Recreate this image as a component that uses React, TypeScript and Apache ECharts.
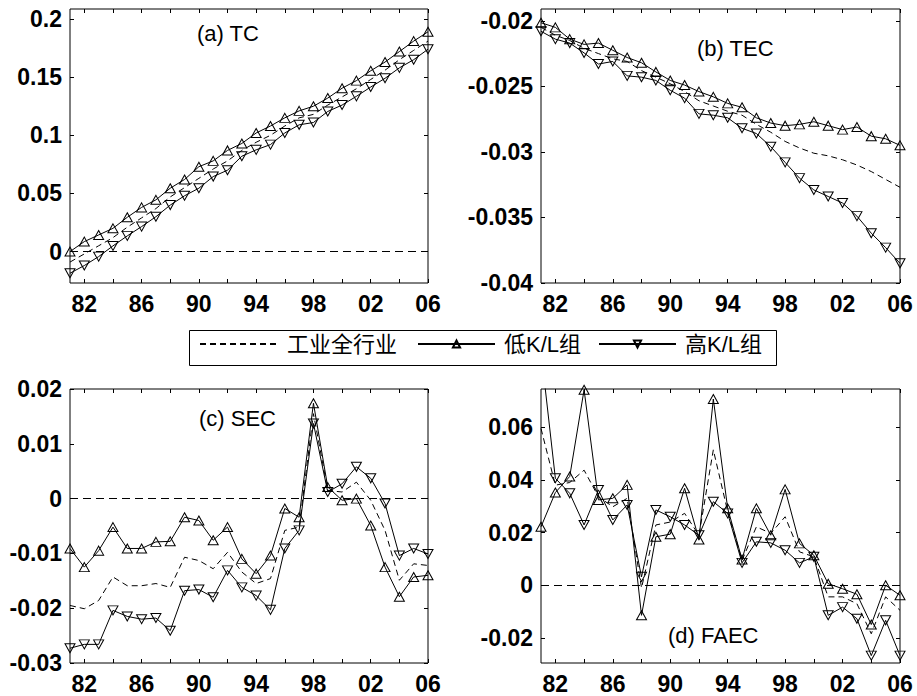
import React, { useEffect, useRef } from "react";
import * as echarts from "echarts";

const years = [1981, 1982, 1983, 1984, 1985, 1986, 1987, 1988, 1989, 1990, 1991, 1992, 1993, 1994, 1995, 1996, 1997, 1998, 1999, 2000, 2001, 2002, 2003, 2004, 2005, 2006];
const xTickValues = [1982, 1984, 1986, 1988, 1990, 1992, 1994, 1996, 1998, 2000, 2002, 2004, 2006];
const xLabelValues = [1982, 1986, 1990, 1994, 1998, 2002, 2006];

const seriesNames = ["工业全行业", "低K/L组", "高K/L组"];
const panelTitles = ["(a) TC", "(b) TEC", "(c) SEC", "(d) FAEC"];

// (a) TC
const tcAll = [-0.009, -0.002, 0.005, 0.012, 0.021, 0.029, 0.037, 0.047, 0.055, 0.063, 0.071, 0.078, 0.087, 0.094, 0.1, 0.108, 0.115, 0.118, 0.126, 0.133, 0.14, 0.148, 0.156, 0.165, 0.173, 0.181];
const tcLow = [0.0, 0.0086, 0.0143, 0.02, 0.0295, 0.038, 0.0445, 0.0545, 0.062, 0.073, 0.078, 0.087, 0.093, 0.102, 0.108, 0.115, 0.121, 0.125, 0.132, 0.1405, 0.147, 0.1555, 0.163, 0.172, 0.181, 0.189];
const tcHigh = [-0.0186, -0.012, -0.0043, 0.0049, 0.0135, 0.0215, 0.03, 0.04, 0.048, 0.0545, 0.0645, 0.07, 0.082, 0.0875, 0.092, 0.102, 0.109, 0.111, 0.1205, 0.126, 0.1335, 0.1415, 0.149, 0.158, 0.165, 0.174];
const tcTicks = [0, 0.05, 0.1, 0.15, 0.2];

// (b) TEC
const tecAll = [-0.0205, -0.0211, -0.0215, -0.0221, -0.0225, -0.0229, -0.0231, -0.0238, -0.0243, -0.0248, -0.0254, -0.0261, -0.0265, -0.0269, -0.0272, -0.0279, -0.0285, -0.0292, -0.0297, -0.0301, -0.0303, -0.0306, -0.031, -0.0315, -0.0321, -0.0327];
const tecLow = [-0.02015, -0.0205, -0.0214, -0.0218, -0.0217, -0.02225, -0.0228, -0.0232, -0.0239, -0.02455, -0.0249, -0.0254, -0.0258, -0.0263, -0.0266, -0.0274, -0.0278, -0.028, -0.0279, -0.0277, -0.028, -0.0283, -0.0281, -0.0288, -0.029, -0.0295];
const tecHigh = [-0.0208, -0.0214, -0.0217, -0.02245, -0.0233, -0.0231, -0.0242, -0.0243, -0.02455, -0.0253, -0.0259, -0.0271, -0.0272, -0.0274, -0.0282, -0.0286, -0.0296, -0.0308, -0.032, -0.0329, -0.0334, -0.0339, -0.0349, -0.0362, -0.0373, -0.0385];
const tecTicks = [-0.04, -0.035, -0.03, -0.025, -0.02];

// (c) SEC
const secAll = [-0.0195, -0.0201, -0.0186, -0.0143, -0.0159, -0.0159, -0.0155, -0.0162, -0.0107, -0.0113, -0.0128, -0.0098, -0.0134, -0.0155, -0.0146, -0.0058, -0.0052, 0.0155, 0.0015, 0.0012, 0.003, -0.0003, -0.0058, -0.0149, -0.0119, -0.0122];
const secLow = [-0.0091, -0.0125, -0.0095, -0.0052, -0.0091, -0.0091, -0.0079, -0.0078, -0.0034, -0.004, -0.0076, -0.0052, -0.011, -0.0137, -0.0104, -0.0018, -0.0034, 0.0174, 0.0021, -0.0003, 0.0, -0.0049, -0.0125, -0.0179, -0.0143, -0.014];
const secHigh = [-0.0273, -0.0266, -0.0266, -0.0204, -0.0215, -0.022, -0.0218, -0.0241, -0.0168, -0.0166, -0.018, -0.0131, -0.0162, -0.0177, -0.0203, -0.0091, -0.0058, 0.0137, 0.0012, 0.0027, 0.0058, 0.0037, -0.0009, -0.0104, -0.0091, -0.0101];
const secTicks = [-0.03, -0.02, -0.01, 0, 0.01, 0.02];

// (d) FAEC
const faecAll = [0.0595, 0.038, 0.039, 0.0437, 0.0336, 0.0298, 0.033, -0.001, 0.0229, 0.024, 0.0273, 0.019, 0.0514, 0.028, 0.0095, 0.0222, 0.0197, 0.026, 0.0127, 0.0108, -0.0044, -0.0044, -0.007, -0.0184, -0.0044, -0.0095];
const faecLow = [0.0222, 0.0352, 0.0413, 0.0742, 0.0324, 0.033, 0.0381, -0.0114, 0.0184, 0.0194, 0.0368, 0.0174, 0.0707, 0.0292, 0.0098, 0.0292, 0.019, 0.0364, 0.0159, 0.0114, 0.0006, -0.0013, -0.0034, -0.0149, 0.0, -0.0038];
const faecHigh = [0.089, 0.0406, 0.0349, 0.0229, 0.0362, 0.0248, 0.0305, 0.0032, 0.0286, 0.026, 0.0229, 0.019, 0.0317, 0.0273, 0.0085, 0.0165, 0.0161, 0.0133, 0.0085, 0.0108, -0.0114, -0.0083, -0.0127, -0.0267, -0.0133, -0.0267];
const faecTicks = [-0.02, 0, 0.02, 0.04, 0.06];

const BLACK = "#000";
const TICK_FONT = "Liberation Sans, Arial, sans-serif";
const CLEAR = "rgba(255,255,255,0)";

export default function App() {
  const ref = useRef<HTMLDivElement>(null);

  useEffect(() => {
    if (!ref.current) return;
    const chart = echarts.init(ref.current, undefined, { renderer: "svg" });

    const panels = [
      { all: tcAll, low: tcLow, high: tcHigh, ticks: tcTicks, min: -0.027, max: 0.2086, zero: true, grid: { left: 70, top: 9, width: 358, height: 274 }, title: { left: 197, top: 22 } },
      { all: tecAll, low: tecLow, high: tecHigh, ticks: tecTicks, min: -0.04, max: -0.0191, zero: false, grid: { left: 541, top: 9, width: 359, height: 274 }, title: { left: 697, top: 37 } },
      { all: secAll, low: secLow, high: secHigh, ticks: secTicks, min: -0.03, max: 0.02, zero: true, grid: { left: 70, top: 389, width: 358, height: 274 }, title: { left: 199, top: 407 } },
      { all: faecAll, low: faecLow, high: faecHigh, ticks: faecTicks, min: -0.0295, max: 0.0745, zero: true, grid: { left: 541, top: 389, width: 359, height: 274 }, title: { left: 668, top: 624 } },
    ];

    const grids: any[] = [];
    const xAxes: any[] = [];
    const yAxes: any[] = [];
    const series: any[] = [];
    const titles: any[] = [];

    const pairs = (vals: number[]) => years.map((y, i) => [y, vals[i]]);

    panels.forEach((p, i) => {
      grids.push({ ...p.grid, show: true, borderColor: BLACK, borderWidth: 1, backgroundColor: "transparent", containLabel: false });
      const tickCommon = { show: true, inside: true, length: 4, lineStyle: { color: BLACK, width: 1 } };
      const noLine = { show: false, onZero: false };
      xAxes.push({
        type: "value", gridIndex: i, min: 1981, max: 2006, position: "bottom",
        axisLine: noLine, splitLine: { show: false },
        axisTick: { ...tickCommon, customValues: xTickValues },
        axisLabel: {
          show: true, customValues: xLabelValues, margin: 9,
          color: BLACK, fontSize: 23, fontWeight: "bold", fontFamily: TICK_FONT,
          formatter: (v: number) => String(v % 100).padStart(2, "0"),
        },
      });
      xAxes.push({
        type: "value", gridIndex: i, min: 1981, max: 2006, position: "top",
        axisLine: noLine, splitLine: { show: false },
        axisTick: { ...tickCommon, customValues: xTickValues },
        axisLabel: { show: false },
      });
      yAxes.push({
        type: "value", gridIndex: i, min: p.min, max: p.max, position: "left",
        axisLine: noLine, splitLine: { show: false },
        axisTick: { ...tickCommon, customValues: p.ticks },
        axisLabel: {
          show: true, customValues: p.ticks, margin: 8,
          color: BLACK, fontSize: 23, fontWeight: "bold", fontFamily: TICK_FONT,
          formatter: (v: number) => String(v),
        },
      });
      yAxes.push({
        type: "value", gridIndex: i, min: p.min, max: p.max, position: "right",
        axisLine: noLine, splitLine: { show: false },
        axisTick: { ...tickCommon, customValues: p.ticks },
        axisLabel: { show: false },
      });

      const axisRef = { xAxisIndex: 2 * i, yAxisIndex: 2 * i };
      series.push({
        name: seriesNames[0], type: "line", ...axisRef, data: pairs(p.all),
        symbol: "none", lineStyle: { color: BLACK, width: 1, type: [6, 4] },
        itemStyle: { color: CLEAR, borderColor: CLEAR, borderWidth: 0 },
        z: 2,
        markLine: p.zero ? {
          silent: true, symbol: "none", label: { show: false },
          lineStyle: { color: BLACK, width: 1, type: [8, 5] },
          data: [{ yAxis: 0 }],
        } : undefined,
      });
      series.push({
        name: seriesNames[1], type: "line", ...axisRef, data: pairs(p.low),
        symbol: "triangle", symbolSize: [10, 9],
        lineStyle: { color: BLACK, width: 1 },
        itemStyle: { color: CLEAR, borderColor: BLACK, borderWidth: 1 },
        z: 3,
      });
      series.push({
        name: seriesNames[2], type: "line", ...axisRef, data: pairs(p.high),
        symbol: "triangle", symbolRotate: 180, symbolSize: [10, 9],
        lineStyle: { color: BLACK, width: 1 },
        itemStyle: { color: CLEAR, borderColor: BLACK, borderWidth: 1 },
        z: 3,
      });

      titles.push({
        text: panelTitles[i], left: p.title.left, top: p.title.top, padding: 0,
        textStyle: { color: BLACK, fontSize: 22, fontWeight: "normal", fontFamily: TICK_FONT },
      });
    });

    const legendText = { color: BLACK, fontSize: 22, fontFamily: "Liberation Sans, Noto Sans CJK SC, sans-serif", padding: [0, 0, 0, 4] };
    const legends = [
      { data: [{ name: seriesNames[0], itemStyle: { color: CLEAR, borderColor: CLEAR, borderWidth: 0 } }], left: 199, itemWidth: 78 },
      { data: [seriesNames[1]], left: 417, itemWidth: 77 },
      { data: [seriesNames[2]], left: 598, itemWidth: 77 },
    ].map((l) => ({
      ...l, top: 333, itemHeight: 9, padding: 0, selectedMode: false,
      textStyle: legendText,
    }));

    chart.setOption({
      animation: false,
      backgroundColor: "#fff",
      title: titles,
      grid: grids,
      xAxis: xAxes,
      yAxis: yAxes,
      legend: legends,
      series,
      graphic: [
        {
          type: "rect", left: 187, top: 328, z: -1,
          shape: { width: 587, height: 35 },
          style: { fill: "none", stroke: BLACK, lineWidth: 1 },
        },
      ],
    });

    return () => chart.dispose();
  }, []);

  return <div ref={ref} style={{ position: "fixed", left: 0, top: 0, width: 917, height: 696 }} />;
}
